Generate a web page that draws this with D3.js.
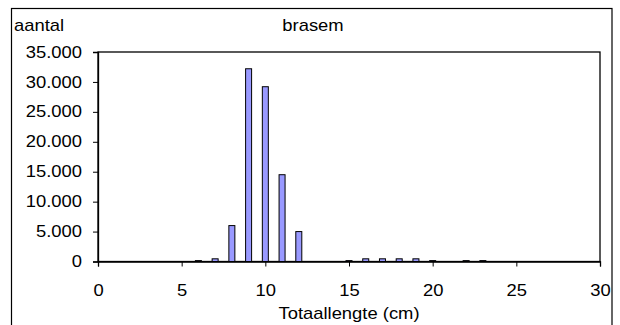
<!DOCTYPE html>
<html><head><meta charset="utf-8">
<script src="https://cdn.jsdelivr.net/npm/d3@7"></script>
<style>body{margin:0;background:#fff}svg{display:block}text{font-family:"Liberation Sans",Arial,sans-serif;fill:#000}</style>
</head><body><svg id="c" width="620" height="325"></svg>
<script>
const lengths = [6, 7, 8, 9, 10, 11, 12, 15, 16, 17, 18, 19, 20, 22, 23];
const counts  = [150, 450, 6000, 32200, 29200, 14500, 5000, 150, 450, 450, 450, 450, 150, 150, 150];
const xTicks = [0, 5, 10, 15, 20, 25, 30];
const yTicks = [0, 5000, 10000, 15000, 20000, 25000, 30000, 35000];
const title = "brasem", yTitle = "aantal", xTitle = "Totaallengte (cm)";

const svg = d3.select("#c");
const L = 98, R = 600, T = 52, B = 261.5;
const x = d3.scaleLinear().domain([0, 30]).range([L, R]);
const y = d3.scaleLinear().domain([0, 35000]).range([B, T]);
const fmt = d => d === 0 ? "0" : d3.format(",")(d).replace(/,/g, ".");
const SX = 1.15, FS = 16;

svg.append("rect").attr("x", 11.5).attr("y", 8.5).attr("width", 600.5).attr("height", 340)
  .attr("fill", "none").attr("stroke", "#000").attr("stroke-width", 1.2);

function txt(s, px, py, anchor) {
  svg.append("text").attr("transform", `translate(${px},${py}) scale(${SX},1)`)
    .attr("text-anchor", anchor).attr("font-size", FS).text(s);
}
txt(yTitle, 14, 31, "start");
txt(title, 313, 31, "middle");

// frame
svg.append("rect").attr("x", L).attr("y", T).attr("width", R - L).attr("height", B - T)
  .attr("fill", "none").attr("stroke", "#000").attr("stroke-width", 1.3);

const ya = svg.append("g").attr("transform", `translate(${L},0)`)
  .call(d3.axisLeft(y).tickValues(yTicks).tickFormat(fmt).tickSize(5).tickPadding(4));
ya.select(".domain").attr("stroke-width", 1.3);
ya.selectAll("text").attr("font-size", FS).attr("font-family", null)
  .attr("transform", `scale(${SX},1)`).attr("x", -16 / SX);

const xa = svg.append("g").attr("transform", `translate(0,${B})`)
  .call(d3.axisBottom(x).tickValues(xTicks).tickSize(5).tickPadding(18));
xa.select(".domain").attr("stroke-width", 1.3);
xa.selectAll("text").attr("font-size", FS).attr("font-family", null)
  .attr("transform", `scale(${SX},1)`);
svg.selectAll(".tick line").attr("stroke", "#000");

const bw = 6;
svg.append("g").selectAll("rect").data(lengths).join("rect")
  .attr("x", (d) => x(d) - bw / 2)
  .attr("y", (d, i) => y(counts[i]))
  .attr("width", bw)
  .attr("height", (d, i) => B - y(counts[i]))
  .attr("fill", "#9999FF").attr("stroke", "#000").attr("stroke-width", 1);

txt(xTitle, 349, 319, "middle");
</script></body></html>
